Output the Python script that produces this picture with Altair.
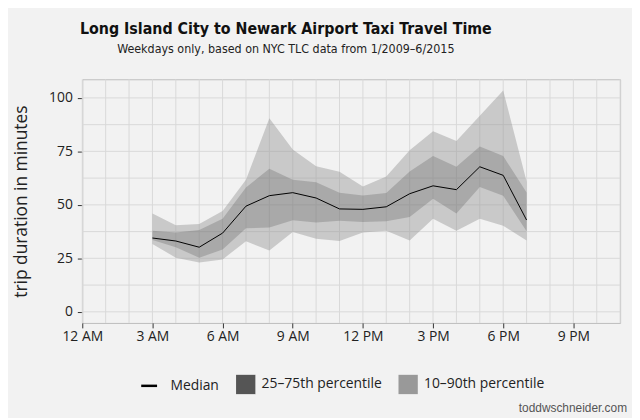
import pandas as pd
import altair as alt

# hourly trip durations (minutes), weekdays, LIC -> EWR
hours = list(range(3, 20))
p10 = [31.7, 25.3, 23.0, 24.5, 33.0, 28.7, 37.3, 34.1, 33.1, 37.1, 37.9, 33.3, 43.5, 37.9, 43.5, 40.2, 33.3]
p25 = [33.6, 30.2, 25.3, 29.1, 39.1, 39.4, 42.8, 41.7, 42.6, 42.0, 42.3, 44.3, 52.9, 46.0, 58.3, 54.3, 37.7]
median = [34.5, 33.1, 30.2, 36.8, 49.4, 54.3, 55.7, 53.2, 48.1, 47.9, 49.1, 55.2, 58.9, 57.1, 67.8, 63.8, 42.9]
p75 = [37.9, 37.1, 38.2, 43.5, 58.1, 66.9, 61.7, 60.6, 55.7, 54.4, 55.5, 65.6, 72.8, 67.8, 77.3, 72.8, 55.8]
p90 = [46.0, 40.5, 41.0, 47.1, 61.7, 90.5, 75.9, 68.1, 65.5, 58.6, 63.2, 75.5, 84.4, 79.8, 91.6, 103.5, 60.9]

x_ticks = [0, 3, 6, 9, 12, 15, 18, 21]
x_tick_labels = ["12 AM", "3 AM", "6 AM", "9 AM", "12 PM", "3 PM", "6 PM", "9 PM"]
y_ticks = [0, 25, 50, 75, 100]
x_grid = list(range(0, 24))
y_grid = [0, 12.5, 25, 37.5, 50, 62.5, 75, 87.5, 100]

df = pd.DataFrame({"hour": hours, "p10": p10, "p25": p25, "median": median, "p75": p75, "p90": p90})

W, H = 543, 246
FONT = "Open Sans"
TFONT = "DejaVu Sans Condensed, Liberation Sans Narrow, Roboto"
xs = alt.Scale(domain=[0, 23], nice=False, zero=False)
ys = alt.Scale(domain=[-5.2, 108.7], nice=False, zero=False)

label_expr = "[" + ",".join("'%s'" % s for s in x_tick_labels) + "][datum.value / 3]"

x_axis = alt.Axis(values=x_ticks, labelExpr=label_expr, grid=False, domain=False, labelFlush=False,
                  tickSize=5, tickColor="#333333", labelFont=FONT, labelFontSize=14,
                  labelColor="#222222", labelPadding=2, title=None)
y_axis = alt.Axis(values=y_ticks, grid=False, domain=False, labelFlush=False, tickSize=5, tickColor="#333333",
                  labelFont=FONT, labelFontSize=14, labelColor="#222222", labelPadding=5,
                  title="trip duration in minutes", titleFont=FONT, titleFontSize=17.5,
                  titleFontWeight="normal", titleColor="#222222", titlePadding=18)

band_scale = alt.Scale(domain=["25–75th percentile", "10–90th percentile"], range=["#555555", "#999999"])
band_legend = alt.Legend(title=None, orient="none", legendX=155, legendY=298, direction="horizontal",
                         symbolType="square", symbolSize=380, symbolOpacity=1, symbolStrokeWidth=0,
                         labelFont=FONT, labelFontSize=14, labelColor="#222222", labelOffset=6,
                         columnPadding=16, padding=0)
median_legend = alt.Legend(title=None, orient="none", legendX=58, legendY=300, direction="horizontal",
                           symbolType="stroke", symbolSize=256, symbolStrokeWidth=2.5,
                           labelFont=FONT, labelFontSize=14, labelColor="#222222", labelOffset=12, padding=0)

hgrid = alt.Chart(pd.DataFrame({"v": y_grid})).mark_rule(color="#d9d9d9", strokeWidth=1).encode(
    y=alt.Y("v:Q", scale=ys, axis=y_axis), x=alt.value(0), x2=alt.value(W))
vgrid = alt.Chart(pd.DataFrame({"h": x_grid})).mark_rule(color="#d9d9d9", strokeWidth=1).encode(
    x=alt.X("h:Q", scale=xs, axis=x_axis), y=alt.value(0), y2=alt.value(H))

base = alt.Chart(df)
outer = base.mark_area(opacity=0.46).encode(
    x=alt.X("hour:Q", scale=xs, axis=x_axis),
    y=alt.Y("p10:Q", scale=ys, axis=y_axis),
    y2="p90:Q",
    fill=alt.Fill("band:N", scale=band_scale, legend=band_legend),
).transform_calculate(band="'10–90th percentile'")
inner = base.mark_area(opacity=0.28).encode(
    x=alt.X("hour:Q", scale=xs, axis=x_axis),
    y=alt.Y("p25:Q", scale=ys, axis=y_axis),
    y2="p75:Q",
    fill=alt.Fill("band:N", scale=band_scale, legend=band_legend),
).transform_calculate(band="'25–75th percentile'")
line = base.mark_line(strokeWidth=1).encode(
    x=alt.X("hour:Q", scale=xs, axis=x_axis),
    y=alt.Y("median:Q", scale=ys, axis=y_axis),
    stroke=alt.Stroke("series:N", scale=alt.Scale(domain=["Median"], range=["black"]), legend=median_legend),
).transform_calculate(series="'Median'")
credit = alt.Chart(pd.DataFrame({"t": ["toddwschneider.com"]})).mark_text(
    align="right", baseline="alphabetic", font="Liberation Sans", fontSize=12, color="#555555"
).encode(text="t:N", x=alt.value(W + 7), y=alt.value(H + 90))

chart = alt.layer(hgrid, vgrid, outer, inner, line, credit).properties(
    width=W, height=H,
    padding={"left": 4, "top": 11, "right": 5, "bottom": 2},
    title=alt.Title(
        "Long Island City to Newark Airport Taxi Travel Time",
        subtitle="Weekdays only, based on NYC TLC data from 1/2009–6/2015",
        anchor="middle", dx=-66, font=TFONT, fontSize=16, fontWeight="bold",
        color="#111111", subtitleFont=TFONT, subtitleFontSize=12.5,
        subtitleColor="#222222", subtitlePadding=6, offset=24,
    ),
).configure(background="#f2f2f2").configure_view(stroke="#bdbdbd", strokeWidth=1)

chart.save("out.html", embed_options={"renderer": "svg", "actions": False})
